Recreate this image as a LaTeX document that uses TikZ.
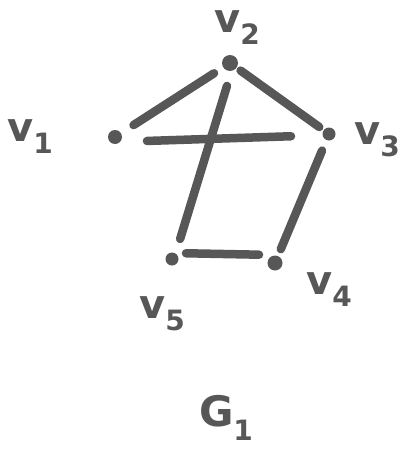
\documentclass[tikz,border=0pt]{standalone}
\usepackage{fontspec}
\setmainfont{DejaVu Sans}
\definecolor{ink}{HTML}{575757}
\newcommand{\lab}[1]{\fontsize{40}{40}\selectfont v\raisebox{-12pt}{\fontsize{28}{28}\selectfont #1}}
\begin{document}
\begin{tikzpicture}[x=1pt,y=-1pt,
  vtx/.style={circle,fill=ink,inner sep=0pt,minimum size=14pt},
  edge/.style={draw=ink,line width=8.5pt,line cap=round},
  lbl/.style={text=ink,inner sep=0pt,font=\bfseries}]
\useasboundingbox (0,0) rectangle (406,458);
\fill[white] (0,0) rectangle (406,458);
\node[vtx] (v1) at (115,137) {};
\node[vtx,minimum size=16pt] (v2) at (230,63) {};
\node[vtx,minimum size=13pt] (v3) at (329,134) {};
\node[vtx,minimum size=15pt] (v4) at (275,263) {};
\node[vtx,minimum size=13pt] (v5) at (172,259) {};
\path[edge,shorten <=22pt,shorten >=19pt] (v1.center) -- (v2.center);
\path[edge,shorten <=32pt,shorten >=38pt] ([yshift=-5pt]v1.center) -- ([yshift=-1pt]v3.center);
\path[edge,shorten <=24pt,shorten >=21pt] ([xshift=4pt]v2.center) -- ([xshift=2pt]v5.center);
\path[edge,shorten <=13pt,shorten >=12pt] (v2.center) -- (v3.center);
\path[edge,shorten <=18pt,shorten >=15pt] (v3.center) -- (v4.center);
\path[edge,shorten <=14pt,shorten >=16pt] ([yshift=6pt]v5.center) -- ([yshift=8pt]v4.center);
\node[lbl] (l1) at (30,137) {\lab{1}};
\node[lbl] (l2) at (237,28) {\lab{2}};
\node[lbl] (l3) at (377,140) {\lab{3}};
\node[lbl] (l4) at (329,290) {\lab{4}};
\node[lbl] (l5) at (162,314) {\lab{5}};
\node[lbl] (g1) at (226,418) {\fontsize{42}{42}\selectfont G\raisebox{-14pt}{\fontsize{28}{28}\selectfont 1}};
\end{tikzpicture}
\end{document}
